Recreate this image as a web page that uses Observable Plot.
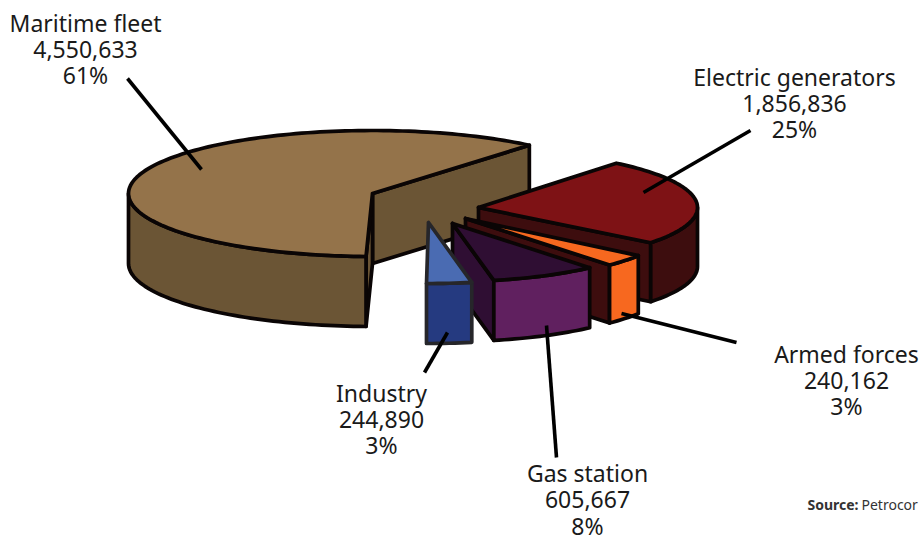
<!DOCTYPE html>
<html>
<head>
<meta charset="utf-8">
<script src="https://cdn.jsdelivr.net/npm/d3@7"></script>
<script src="https://cdn.jsdelivr.net/npm/@observablehq/plot@0.6"></script>
<style>html,body{margin:0;padding:0;background:#fff}svg{display:block}</style>
</head>
<body>
<div id="chart"></div>
<script>
// Data (pie order, clockwise)
const sectors = ["Electric generators", "Armed forces", "Gas station", "Industry", "Maritime fleet"];
const barrels = [1856836, 240162, 605667, 244890, 4550633];

// Look of each wedge, same order as the data
const topColours  = ["#7e1215", "#f7681f", "#2f0e33", "#4a6bb2", "#94734a"];
const wallColours = ["#3d0d0e", "#f7681f", "#60205f", "#253a80", "#6b5535"];
const cutColours  = ["#3d0d0e", "#3d0d0e", "#2f0e33", "#253a80", "#6b5535"];
const edgeColours = ["#0a0505", "#0a0505", "#0a0505", "#26262a", "#0a0505"];
const wedges = [
  {cx: 478, cy: 207, rx: 219, ry: 57, depth: 59, turn: 0},
  {cx: 465, cy: 218, rx: 214, ry: 63, depth: 58, turn: 2},
  {cx: 452, cy: 223, rx: 212, ry: 58, depth: 60, turn: 0},
  {cx: 428, cy: 222, rx: 222, ry: 61, depth: 60, turn: 0},
  {cx: 372, cy: 193, rx: 244, ry: 63, depth: 70, turn: -1}
];
const startAngle = 51;
const drawOrder = [4, 0, 1, 2, 3];

// Label and leader placement, same order as the data
const labelX = [794, 846, 587, 381, 85];
const labelY = [103, 380, 499.5, 419, 49];
const leadFromX = [750, 736, 556, 424, 127];
const leadFromY = [130, 342, 457, 372, 78];
const leadToX = [643, 621, 546, 447, 201];
const leadToY = [192, 313, 325, 332, 169];

const total = d3.sum(barrels);
const fmt = d3.format(",");
const pct = d3.format(".0%");
const rad = d => d * Math.PI / 180;

let running = 0;
const spans = barrels.map(v => {
  const a0 = startAngle - 360 * running / total;
  running += v;
  return [a0, startAngle - 360 * running / total];
});

function rim(w, from, to, dy = 0) {
  const n = Math.max(2, Math.ceil(Math.abs(to - from) / 1.5));
  return d3.range(n + 1).map(i => {
    const a = from + (to - from) * i / n;
    return {x: w.cx + w.rx * Math.cos(rad(a)), y: w.cy - w.ry * Math.sin(rad(a)) + dy};
  });
}
const closed = pts => [...pts, pts[0]];

function facesOf(i) {
  const w = wedges[i];
  const a0 = spans[i][0] + w.turn, a1 = spans[i][1] + w.turn;
  const apex = {x: w.cx, y: w.cy};
  const apexLow = {x: w.cx, y: w.cy + w.depth};
  const faces = [];
  const cut = a => {
    const e = rim(w, a, a)[0];
    return closed([apex, e, {x: e.x, y: e.y + w.depth}, apexLow]);
  };
  if (Math.cos(rad(a1)) > 0) faces.push({pts: cut(a1), fill: cutColours[i]});
  if (Math.cos(rad(a0)) < 0) faces.push({pts: cut(a0), fill: cutColours[i]});
  // outer wall: only the part of the rim that faces the viewer (sin < 0)
  for (const [lo, hi] of [[-180, 0], [-540, -360]]) {
    const f = Math.min(a0, hi), t = Math.max(a1, lo);
    if (f > t) {
      const up = rim(w, f, t), down = rim(w, f, t, w.depth).reverse();
      faces.push({pts: closed([...up, ...down]), fill: wallColours[i]});
    }
  }
  faces.push({pts: closed([apex, ...rim(w, a0, a1)]), fill: topColours[i]});
  return faces.map(f => ({...f, stroke: edgeColours[i]}));
}

const faceMarks = drawOrder.flatMap(facesOf).map(f =>
  Plot.line(f.pts, {x: "x", y: "y", fill: f.fill, stroke: f.stroke, strokeWidth: 3.7, strokeLinejoin: "round"})
);

const table = sectors.map((name, i) => ({
  text: `${name}\n${fmt(barrels[i])}\n${pct(barrels[i] / total)}`,
  x: labelX[i], y: labelY[i],
  x1: leadFromX[i], y1: leadFromY[i], x2: leadToX[i], y2: leadToY[i]
}));

const font = "'Noto Sans', sans-serif";
const plot = Plot.plot({
  width: 922, height: 535,
  margin: 0,
  style: {background: "#fff"},
  x: {domain: [0, 922], range: [0, 922], axis: null},
  y: {domain: [0, 535], range: [0, 535], axis: null},
  marks: [
    ...faceMarks,
    Plot.link(table, {x1: "x1", y1: "y1", x2: "x2", y2: "y2", stroke: "#000", strokeWidth: 3.6}),
    Plot.text(table, {x: "x", y: "y", text: "text", fontSize: 23, lineHeight: 1.15, fill: "#1a1a1a", fontFamily: font}),
    Plot.text(["Source:"], {x: () => 807, y: () => 505, text: d => d, textAnchor: "start", fontSize: 14, fontWeight: "bold", fill: "#333", fontFamily: font}),
    Plot.text(["Petrocor"], {x: () => 861, y: () => 505, text: d => d, textAnchor: "start", fontSize: 14, fill: "#333", fontFamily: font})
  ]
});
document.getElementById("chart").appendChild(plot);
</script>
</body>
</html>
